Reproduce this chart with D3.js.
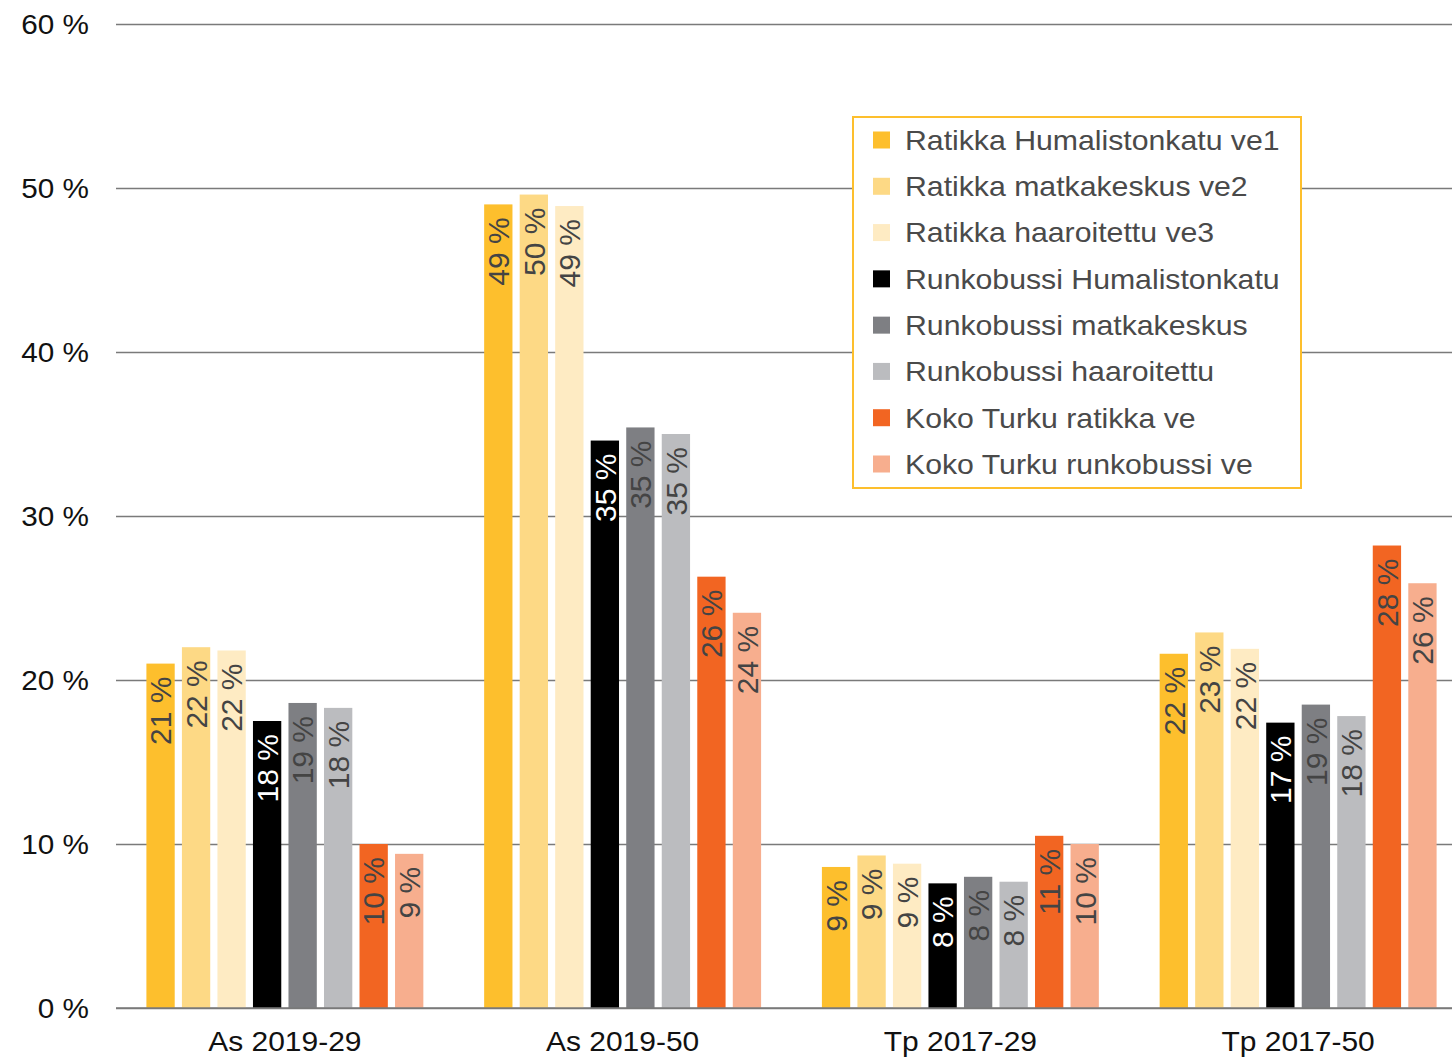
<!DOCTYPE html>
<html>
<head>
<meta charset="utf-8">
<script src="https://cdn.jsdelivr.net/npm/d3@7/dist/d3.min.js"></script>
<style>
  html, body { margin: 0; padding: 0; background: #fff; }
  svg { display: block; font-family: "Liberation Sans", Arial, Helvetica, sans-serif; }
</style>
</head>
<body>
<svg id="chart" width="1452" height="1061"></svg>
<script>
const categories = ["As 2019-29", "As 2019-50", "Tp 2017-29", "Tp 2017-50"];
const seriesNames = [
  "Ratikka Humalistonkatu ve1",
  "Ratikka matkakeskus ve2",
  "Ratikka haaroitettu ve3",
  "Runkobussi Humalistonkatu",
  "Runkobussi matkakeskus",
  "Runkobussi haaroitettu",
  "Koko Turku ratikka ve",
  "Koko Turku runkobussi ve"
];
const seriesColors = ["#FDBF2D", "#FDD985", "#FEEBC3", "#000000", "#7E7F83", "#BBBCBF", "#F26522", "#F7AE8E"];
const labelColors = ["#444444", "#444444", "#444444", "#ffffff", "#444444", "#444444", "#444444", "#444444"];
// values per series, one per category (percent)
const ratikkaHumalistonkatu = [21.0, 49.0, 8.6, 21.6];
const ratikkaMatkakeskus    = [22.0, 49.6, 9.3, 22.9];
const ratikkaHaaroitettu    = [21.8, 48.9, 8.8, 21.9];
const runkoHumalistonkatu   = [17.5, 34.6, 7.6, 17.4];
const runkoMatkakeskus      = [18.6, 35.4, 8.0, 18.5];
const runkoHaaroitettu      = [18.3, 35.0, 7.7, 17.8];
const kokoRatikka           = [10.0, 26.3, 10.5, 28.2];
const kokoRunkobussi        = [9.4, 24.1, 10.0, 25.9];
const labelTexts = [
  ["21 %", "49 %", "9 %", "22 %"],
  ["22 %", "50 %", "9 %", "23 %"],
  ["22 %", "49 %", "9 %", "22 %"],
  ["18 %", "35 %", "8 %", "17 %"],
  ["19 %", "35 %", "8 %", "19 %"],
  ["18 %", "35 %", "8 %", "18 %"],
  ["10 %", "26 %", "11 %", "28 %"],
  ["9 %", "24 %", "10 %", "26 %"]
];
const yTicks = [0, 10, 20, 30, 40, 50, 60];
const yTickLabels = ["0 %", "10 %", "20 %", "30 %", "40 %", "50 %", "60 %"];

const allValues = [ratikkaHumalistonkatu, ratikkaMatkakeskus, ratikkaHaaroitettu,
  runkoHumalistonkatu, runkoMatkakeskus, runkoHaaroitettu, kokoRatikka, kokoRunkobussi];

const svg = d3.select("#chart");
const plotLeft = 116, plotRight = 1467, plotTop = 24, plotBottom = 1008;

const y = d3.scaleLinear().domain([0, 60]).range([plotBottom, plotTop]);
const x0 = d3.scaleBand().domain(categories).range([plotLeft, plotRight]).padding(0);
const x1 = d3.scaleBand().domain(d3.range(seriesNames.length)).range([0, x0.bandwidth()])
  .paddingInner(0.203).paddingOuter(0.856);

// gridlines + y labels
const yAxis = d3.axisLeft(y).tickValues(yTicks).tickSize(-(1452 - plotLeft)).tickPadding(27)
  .tickFormat((d, i) => yTickLabels[i]);
const gy = svg.append("g").attr("transform", `translate(${plotLeft},0)`).call(yAxis);
gy.select(".domain").remove();
gy.selectAll(".tick line").attr("stroke", "#7a7a7a").attr("stroke-width", 1.3);
gy.selectAll(".tick text").attr("fill", "#111").attr("font-size", 27)
  .attr("x", 0).attr("dy", "0.35em")
  .attr("transform", "translate(-27,0) scale(1.1,1)");

// bars
const groups = svg.append("g").selectAll("g").data(categories).join("g")
  .attr("transform", d => `translate(${x0(d)},0)`);
groups.each(function(cat, ci) {
  const g = d3.select(this);
  seriesNames.forEach((s, si) => {
    const v = allValues[si][ci];
    g.append("rect")
      .attr("x", x1(si)).attr("width", x1.bandwidth())
      .attr("y", y(v)).attr("height", y(0) - y(v))
      .attr("fill", seriesColors[si]);
    const cx = x1(si) + x1.bandwidth() / 2;
    g.append("text")
      .attr("transform", `translate(${cx},${y(v) + 13}) rotate(-90)`)
      .attr("text-anchor", "end")
      .attr("dy", "0.36em")
      .attr("font-size", 30)
      .attr("fill", labelColors[si])
      .text(labelTexts[si][ci]);
  });
});

// baseline redraw on top
svg.append("line").attr("x1", plotLeft).attr("x2", 1452).attr("y1", y(0)).attr("y2", y(0))
  .attr("stroke", "#7a7a7a").attr("stroke-width", 1.3);

// x axis labels
const xAxis = d3.axisBottom(x0).tickSize(0).tickPadding(22);
const gx = svg.append("g").attr("transform", `translate(0,${plotBottom})`).call(xAxis);
gx.select(".domain").remove();
gx.selectAll(".tick text").attr("fill", "#111").attr("font-size", 27)
  .attr("y", 0).attr("transform", "translate(0,24) scale(1.11,1)");

// legend
const legend = svg.append("g");
legend.append("rect").attr("x", 853).attr("y", 117).attr("width", 448).attr("height", 371)
  .attr("fill", "#fff").attr("stroke", "#FDBF2D").attr("stroke-width", 2);
const ly = d3.scalePoint().domain(seriesNames).range([140, 464]);
seriesNames.forEach((s, i) => {
  legend.append("rect").attr("x", 873).attr("y", ly(s) - 8.5).attr("width", 17).attr("height", 17)
    .attr("fill", seriesColors[i]);
  legend.append("text").attr("transform", `translate(905,${ly(s)}) scale(1.08,1)`)
    .attr("dy", "0.35em")
    .attr("font-size", 28).attr("fill", "#4a4a4a").text(s);
});
</script>
</body>
</html>
